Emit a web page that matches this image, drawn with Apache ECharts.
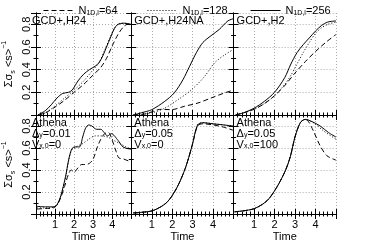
<!DOCTYPE html>
<html><head><meta charset="utf-8">
<script src="https://cdn.jsdelivr.net/npm/echarts@6/dist/echarts.min.js"></script>
<style>html,body{margin:0;padding:0;background:#fff}#c{width:374px;height:243px}</style>
</head><body><div id="c"></div>
<script>
// ---- data ----
const resolutions = ['64', '128', '256'];
const xTicks = [1, 2, 3, 4];
const yTicks = [0.2, 0.4, 0.6, 0.8];

// Panel 1: GCD+, H24
const p1_64  = [[0.1,0],[0.5,0.02],[1,0.07],[1.5,0.13],[2,0.2],[2.5,0.27],[2.8,0.32],[3.1,0.37],[3.4,0.42],[3.7,0.5],[4,0.61],[4.3,0.71],[4.6,0.78],[4.8,0.8],[5,0.79]];
const p1_128 = [[0.1,0],[0.5,0.02],[1,0.08],[1.5,0.15],[2,0.22],[2.5,0.3],[3,0.4],[3.3,0.46],[3.6,0.57],[3.9,0.69],[4.1,0.76],[4.3,0.8],[4.6,0.81],[5,0.8]];
const p1_256 = [[0.1,0],[0.5,0.04],[0.8,0.09],[1.1,0.15],[1.4,0.19],[1.7,0.2],[1.9,0.22],[2.2,0.3],[2.5,0.36],[2.8,0.4],[3.1,0.43],[3.3,0.46],[3.5,0.52],[3.7,0.6],[3.9,0.68],[4.1,0.76],[4.3,0.8],[4.6,0.81],[5,0.8]];
// Panel 2: GCD+, H24NA
const p2_64  = [[0.1,0],[0.7,0.01],[1.3,0.047],[1.5,0.05],[1.95,0.047],[2.6,0.077],[3.26,0.106],[3.9,0.15],[4.56,0.195],[5,0.22]];
const p2_128 = [[0.1,0],[1,0.02],[1.63,0.06],[2.28,0.135],[2.93,0.22],[3.58,0.34],[4.07,0.46],[4.56,0.53],[5,0.58]];
const p2_256 = [[0.1,0],[0.5,0.02],[1,0.047],[1.63,0.12],[2.1,0.195],[2.52,0.31],[2.85,0.43],[3.18,0.55],[3.5,0.64],[3.9,0.7],[4.3,0.755],[4.72,0.83],[5,0.85]];
// Panel 3: GCD+, H2
const p3_64  = [[0.1,0],[0.5,0.02],[1,0.05],[1.5,0.1],[2,0.17],[2.5,0.26],[3,0.37],[3.5,0.47],[4,0.56],[4.5,0.64],[5,0.71]];
const p3_128 = [[0.1,0],[0.5,0.02],[1,0.05],[1.5,0.1],[2,0.17],[2.5,0.27],[2.8,0.35],[3.1,0.45],[3.4,0.55],[3.7,0.64],[4,0.72],[4.3,0.77],[4.6,0.8],[5,0.82]];
const p3_256 = [[0.1,0],[0.5,0.02],[1,0.06],[1.5,0.12],[2,0.2],[2.5,0.33],[2.8,0.45],[3.1,0.55],[3.4,0.62],[3.7,0.68],[4,0.74],[4.3,0.79],[4.6,0.82],[5,0.83]];
// Panel 4: Athena, dy=0.01, vx0=0
const p4_64  = [[0.05,0.045],[0.5,0.05],[0.9,0.055],[1.1,0.08],[1.3,0.15],[1.5,0.25],[1.7,0.36],[1.85,0.4],[2.0,0.38],[2.2,0.42],[2.4,0.45],[2.6,0.45],[2.8,0.46],[3.0,0.5],[3.2,0.6],[3.4,0.68],[3.6,0.73],[3.8,0.74],[4.0,0.67],[4.2,0.57],[4.35,0.51],[4.6,0.5],[5,0.47]];
const p4_128 = [[0.05,0.055],[0.5,0.055],[0.9,0.06],[1.1,0.08],[1.3,0.16],[1.55,0.33],[1.71,0.48],[1.87,0.58],[2.1,0.61],[2.45,0.64],[2.77,0.68],[3.1,0.71],[3.4,0.71],[3.75,0.7],[4.07,0.67],[4.4,0.64],[4.72,0.61],[5,0.59]];
const p4_256 = [[0.05,0.07],[0.5,0.065],[0.9,0.065],[1.1,0.085],[1.3,0.165],[1.55,0.34],[1.71,0.49],[1.87,0.59],[2.03,0.61],[2.28,0.61],[2.45,0.7],[2.6,0.78],[2.77,0.81],[2.93,0.8],[3.18,0.77],[3.4,0.77],[3.58,0.74],[3.75,0.71],[3.95,0.73],[4.3,0.67],[4.56,0.61],[4.8,0.595],[5,0.59]];
// Panel 5: Athena, dy=0.05, vx0=0
const p5_64  = [[0.1,0.01],[0.5,0.015],[1.09,0.033],[1.74,0.106],[2.23,0.24],[2.64,0.416],[2.97,0.62],[3.24,0.8],[3.5,0.82],[4,0.81],[4.5,0.79],[5,0.76]];
const p5_128 = [[0.1,0.01],[0.5,0.015],[1.09,0.033],[1.74,0.106],[2.23,0.24],[2.64,0.416],[2.97,0.62],[3.24,0.81],[3.5,0.83],[4,0.82],[4.5,0.81],[5,0.79]];
const p5_256 = [[0.1,0.01],[0.5,0.015],[1.09,0.033],[1.74,0.106],[2.23,0.24],[2.64,0.416],[2.97,0.62],[3.24,0.81],[3.5,0.83],[4,0.82],[4.5,0.81],[5,0.8]];
// Panel 6: Athena, dy=0.05, vx0=100
const p6_64  = [[0.05,0.02],[0.98,0.047],[1.63,0.12],[2.1,0.24],[2.52,0.39],[2.77,0.52],[3.0,0.7],[3.26,0.83],[3.5,0.86],[3.66,0.84],[3.9,0.755],[4.23,0.62],[4.56,0.53],[5,0.49]];
const p6_128 = [[0.05,0.02],[0.98,0.047],[1.63,0.12],[2.1,0.24],[2.52,0.39],[2.77,0.52],[3.0,0.7],[3.26,0.83],[3.5,0.86],[3.9,0.83],[4.4,0.755],[5,0.68]];
const p6_256 = [[0.05,0.02],[0.98,0.047],[1.63,0.12],[2.1,0.24],[2.52,0.39],[2.77,0.52],[3.0,0.7],[3.26,0.83],[3.5,0.86],[3.83,0.84],[4.23,0.8],[4.64,0.74],[5,0.7]];

const panelData = [
  [p1_64, p1_128, p1_256],
  [p2_64, p2_128, p2_256],
  [p3_64, p3_128, p3_256],
  [p4_64, p4_128, p4_256],
  [p5_64, p5_128, p5_256],
  [p6_64, p6_128, p6_256]
];

// ---- layout ----
const FONT = 'Liberation Sans';
const L0 = 29, T0 = 13, W = 102.3, H = 102;
const lineTypes = [[5, 3], [1, 2], 'solid'];

const grids = [], xAxes = [], yAxes = [], series = [];
for (let i = 0; i < 6; i++) {
  const c = i % 3, r = Math.floor(i / 3);
  grids.push({ left: L0 + c * W, top: T0 + r * H, width: W, height: H });
  const axisCommon = {
    min: 0, type: 'value', gridIndex: i,
    axisLine: { show: true, lineStyle: { color: '#000', width: 1 } },
    axisTick: { show: true, inside: true, length: 5, lineStyle: { color: '#000', width: 1 } },
    minorTick: { show: true, length: 2.5, lineStyle: { color: '#000', width: 1 } }
  };
  xAxes.push(Object.assign({}, axisCommon, {
    position: 'bottom', max: 5, interval: 1,
    minorTick: Object.assign({}, axisCommon.minorTick, { splitNumber: 5 }),
    splitLine: { show: true, lineStyle: { color: '#aaa', type: [1, 2], width: 1 } },
    axisLabel: { show: r === 1, showMinLabel: false, showMaxLabel: false, color: '#000', fontFamily: FONT, fontSize: 11, margin: 5,
      formatter: v => xTicks.includes(v) ? String(v) : '' },
    name: r === 1 ? 'Time' : '', nameLocation: 'middle', nameGap: 17,
    nameTextStyle: { color: '#000', fontFamily: FONT, fontSize: 11 }
  }));
  xAxes.push(Object.assign({}, axisCommon, {
    position: 'top', max: 5, interval: 1,
    minorTick: Object.assign({}, axisCommon.minorTick, { splitNumber: 5 }),
    splitLine: { show: false }, axisLabel: { show: false }
  }));
  yAxes.push(Object.assign({}, axisCommon, {
    position: 'left', max: 0.9, interval: 0.2,
    minorTick: Object.assign({}, axisCommon.minorTick, { splitNumber: 2 }),
    splitLine: { show: true, lineStyle: { color: '#aaa', type: [1, 2], width: 1 } },
    axisLabel: { show: c === 0, rotate: 90, showMinLabel: false, showMaxLabel: false, color: '#000', fontFamily: FONT, fontSize: 11, margin: 4,
      formatter: v => yTicks.some(t => Math.abs(t - v) < 1e-6) ? v.toFixed(1) : '' },
    name: c === 0 ? '{a|Σσ}{s|s}{a| <s>}{p|−1}' : '', nameLocation: 'middle', nameGap: 19, nameRotate: 90,
    nameTextStyle: { color: '#000', fontFamily: FONT, fontSize: 11,
      rich: {
        a: { fontFamily: FONT, fontSize: 11, color: '#000', lineHeight: 16 },
        s: { fontFamily: FONT, fontSize: 7, color: '#000', verticalAlign: 'bottom', lineHeight: 10 },
        p: { fontFamily: FONT, fontSize: 7, color: '#000', verticalAlign: 'top', lineHeight: 10 }
      } }
  }));
  yAxes.push(Object.assign({}, axisCommon, {
    position: 'right', max: 0.9, interval: 0.2,
    minorTick: Object.assign({}, axisCommon.minorTick, { splitNumber: 2 }),
    splitLine: { show: false }, axisLabel: { show: false }
  }));
  for (let k = 0; k < 3; k++) {
    series.push({
      type: 'line', name: resolutions[k], xAxisIndex: 2 * i, yAxisIndex: 2 * i,
      data: panelData[i][k], symbol: 'none', smooth: 0.3, silent: true,
      lineStyle: { color: '#000', width: 1, type: lineTypes[k] },
      itemStyle: { color: '#000' }
    });
  }
}

const legendRich = {
  n: { fontFamily: FONT, fontSize: 11, fontWeight: 'normal', color: '#000' },
  s: { fontFamily: FONT, fontSize: 7, fontWeight: 'normal', color: '#000', verticalAlign: 'bottom', padding: [6, 0, 0, 0] }
};
const legendX = [38, 142, 245];
const legends = resolutions.map((r, k) => ({
  show: true, orient: 'horizontal',
  data: [r], left: legendX[k], top: 0, itemWidth: 30, itemHeight: 10, itemGap: 4,
  selectedMode: false,
  itemStyle: { color: 'rgba(0,0,0,0)', borderWidth: 0, opacity: 0 },
  lineStyle: { width: 1, color: '#000', type: lineTypes[k] },
  formatter: name => '{n|N}{s|1D,l}{n|=' + name + '}',
  textStyle: { rich: legendRich, fontFamily: FONT, fontSize: 11, fontWeight: 'normal', color: '#000' }
}));

const tr = {
  a: { fontFamily: FONT, fontSize: 11, fill: '#000', lineHeight: 11 },
  s: { fontFamily: FONT, fontSize: 7, fill: '#000', verticalAlign: 'bottom', lineHeight: 7, padding: [5, 0, 0, 0] }
};
const labelText = [
  '{a|GCD+,H24}', '{a|GCD+,H24NA}', '{a|GCD+,H2}',
  '{a|Athena}\n{a|Δ}{s|y}{a|=0.01}\n{a|V}{s|x,0}{a|=0}',
  '{a|Athena}\n{a|Δ}{s|y}{a|=0.05}\n{a|V}{s|x,0}{a|=0}',
  '{a|Athena}\n{a|Δ}{s|y}{a|=0.05}\n{a|V}{s|x,0}{a|=100}'
];
const graphics = labelText.map((t, i) => {
  const c = i % 3, r = Math.floor(i / 3);
  return { type: 'text', left: L0 + c * W + 3, top: T0 + r * H + 2, z: 100,
    style: { text: t, rich: tr, font: '11px ' + FONT, fill: '#000' } };
});

const chart = echarts.init(document.getElementById('c'), null, { renderer: 'canvas' });
chart.setOption({
  animation: false,
  backgroundColor: '#fff',
  grid: grids, xAxis: xAxes, yAxis: yAxes, series: series,
  legend: legends,
  graphic: graphics
});
</script></body></html>
